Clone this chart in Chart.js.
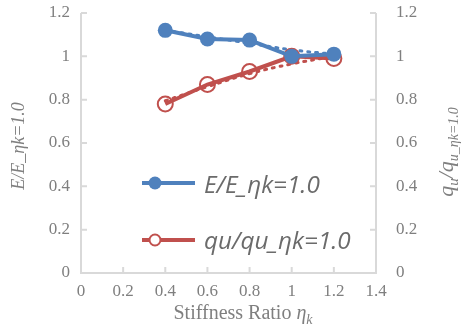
<!DOCTYPE html>
<html><head><meta charset="utf-8">
<script src="https://cdn.jsdelivr.net/npm/chart.js@4"></script>
<style>html,body{margin:0;padding:0;background:#fff}#wrap{width:462px;height:334px}</style>
</head><body><div id="wrap"><canvas id="c" width="462" height="334"></canvas></div>
<script>
const stiffness = [0.4, 0.6, 0.8, 1.0, 1.2];
const eRatio = [1.12, 1.08, 1.075, 1.0, 1.01];
const quRatio = [0.78, 0.87, 0.93, 1.0, 0.99];
const eTrend = [1.12, 1.09, 1.06, 1.03, 1.01];
const quTrend = [0.795, 0.86, 0.92, 0.965, 1.0];
const yTicks = [0, 0.2, 0.4, 0.6, 0.8, 1, 1.2];
const xTicks = [0, 0.2, 0.4, 0.6, 0.8, 1, 1.2, 1.4];
const legendLabels = ['E/E_ηk=1.0', 'qu/qu_ηk=1.0'];

const BLUE = '#4f81bd', RED = '#c0504d', AX = '#d9d9d9', TXT = '#7f7f7f';
const pts = (xs, ys) => xs.map((x, i) => ({x, y: ys[i]}));

const overlay = {
  id: 'overlay',
  afterDraw(chart) {
    const {ctx, chartArea: a, scales} = chart;
    const x = scales.x, y = scales.y, y2 = scales.y2;
    ctx.save();
    ctx.strokeStyle = AX; ctx.lineWidth = 2;
    ctx.beginPath();
    ctx.moveTo(a.left, a.top); ctx.lineTo(a.left, a.bottom); ctx.lineTo(a.right, a.bottom); ctx.lineTo(a.right, a.top);
    yTicks.forEach(v => { const p = y.getPixelForValue(v); ctx.moveTo(a.left, p); ctx.lineTo(a.left + 6, p); });
    yTicks.forEach(v => { const p = y2.getPixelForValue(v); ctx.moveTo(a.right, p); ctx.lineTo(a.right - 6, p); });
    xTicks.forEach(v => { const p = x.getPixelForValue(v); ctx.moveTo(p, a.bottom); ctx.lineTo(p, a.bottom - 6); });
    ctx.stroke();

    ctx.fillStyle = TXT; ctx.textBaseline = 'alphabetic';
    // left title
    ctx.save();
    ctx.translate(24, (a.top + a.bottom) / 2 + 3);
    ctx.rotate(-Math.PI / 2);
    ctx.font = 'italic 18px "Liberation Serif"';
    ctx.textAlign = 'center';
    ctx.fillText('E/E_ηk=1.0', 0, 0);
    ctx.restore();
    // right title
    ctx.save();
    ctx.translate(453, (a.top + a.bottom) / 2 + 9);
    ctx.rotate(-Math.PI / 2);
    const parts = [['q', 22, 0], ['u', 15, 5], ['/', 22, 0], ['q', 22, 0], ['u_ηk=1.0', 14, 5]];
    let w = 0;
    parts.forEach(p => { ctx.font = 'italic ' + p[1] + 'px "Liberation Serif"'; w += ctx.measureText(p[0]).width; });
    let cx = -w / 2;
    ctx.textAlign = 'left';
    parts.forEach(p => { ctx.font = 'italic ' + p[1] + 'px "Liberation Serif"'; ctx.fillText(p[0], cx, p[2]); cx += ctx.measureText(p[0]).width; });
    ctx.restore();
    // x title
    ctx.save();
    const xp = [['Stiffness Ratio ', '20px', 0], ['η', 'italic 20px', 0], ['k', 'italic 14px', 5]];
    w = 0;
    xp.forEach(p => { ctx.font = p[1] + ' "Liberation Serif"'; w += ctx.measureText(p[0]).width; });
    cx = 243 - w / 2;
    xp.forEach(p => { ctx.font = p[1] + ' "Liberation Serif"'; ctx.fillText(p[0], cx, 319 + p[2]); cx += ctx.measureText(p[0]).width; });
    ctx.restore();

    // legend
    const items = [[BLUE, true, 183, 193], [RED, false, 240, 249]];
    ctx.font = 'italic 20px "Open Sans"';
    const fs = 20 * 116 / ctx.measureText(legendLabels[0]).width;
    items.forEach((it, i) => {
      const [c, filled, ly, base] = it;
      ctx.strokeStyle = c; ctx.lineWidth = 4; ctx.lineCap = 'butt';
      ctx.beginPath(); ctx.moveTo(142, ly); ctx.lineTo(195, ly); ctx.stroke();
      ctx.beginPath(); ctx.arc(155, ly, filled ? 6.5 : 5.5, 0, Math.PI * 2);
      if (filled) { ctx.fillStyle = c; ctx.fill(); }
      else { ctx.fillStyle = '#fff'; ctx.fill(); ctx.lineWidth = 2; ctx.stroke(); }
      ctx.fillStyle = '#6b6b6b';
      ctx.font = 'italic ' + fs.toFixed(1) + 'px "Open Sans"';
      ctx.textAlign = 'left'; ctx.textBaseline = 'alphabetic';
      ctx.fillText(legendLabels[i], 204, base);
    });
    ctx.restore();
  }
};

const noPadY = s => { s.paddingTop = 0; s.paddingBottom = 0; };
new Chart(document.getElementById('c'), {
  type: 'scatter',
  data: {
    datasets: [
      {data: pts(stiffness, eTrend), showLine: true, borderColor: BLUE, borderWidth: 3, borderDash: [2, 6], borderCapStyle: 'round', pointRadius: 0, tension: 0.4, yAxisID: 'y', order: 3},
      {data: pts(stiffness, quTrend), showLine: true, borderColor: RED, borderWidth: 3, borderDash: [2, 6], borderCapStyle: 'round', pointRadius: 0, tension: 0.4, yAxisID: 'y2', order: 4},
      {data: pts(stiffness, eRatio), showLine: true, borderColor: BLUE, backgroundColor: BLUE, borderWidth: 4, pointRadius: 7.5, pointBorderWidth: 0, pointBackgroundColor: BLUE, yAxisID: 'y', order: 1},
      {data: pts(stiffness, quRatio), showLine: true, borderColor: RED, backgroundColor: 'rgba(0,0,0,0)', borderWidth: 4, pointRadius: 7.5, pointBorderWidth: 2, pointBackgroundColor: 'rgba(255,255,255,0)', yAxisID: 'y2', order: 2}
    ]
  },
  options: {
    responsive: false, animation: false, devicePixelRatio: 1,
    layout: {padding: {top: 13, left: 0, right: 0, bottom: 0}},
    plugins: {legend: {display: false}, tooltip: {enabled: false}},
    scales: {
      x: {type: 'linear', min: 0, max: 1.4,
        afterBuildTicks: s => { s.ticks = xTicks.map(v => ({value: v})); },
        afterFit: s => { s.height = 61; s.paddingLeft = 0; s.paddingRight = 0; },
        grid: {display: false, drawTicks: false}, border: {display: false},
        ticks: {padding: 8, color: TXT, font: {family: 'Liberation Serif', size: 17}, callback: v => String(+v.toFixed(1))}},
      y: {type: 'linear', position: 'left', min: 0, max: 1.2,
        afterBuildTicks: s => { s.ticks = yTicks.map(v => ({value: v})); },
        afterFit: s => { s.width = 81; noPadY(s); },
        grid: {display: false, drawTicks: false}, border: {display: false},
        ticks: {padding: 11, color: TXT, font: {family: 'Liberation Serif', size: 17}, callback: v => String(+v.toFixed(1))}},
      y2: {type: 'linear', position: 'right', min: 0, max: 1.2,
        afterBuildTicks: s => { s.ticks = yTicks.map(v => ({value: v})); },
        afterFit: s => { s.width = 86; noPadY(s); },
        grid: {display: false, drawTicks: false}, border: {display: false},
        ticks: {padding: 20, color: TXT, font: {family: 'Liberation Serif', size: 17}, callback: v => String(+v.toFixed(1))}}
    }
  },
  plugins: [overlay]
});
</script>
</body></html>
